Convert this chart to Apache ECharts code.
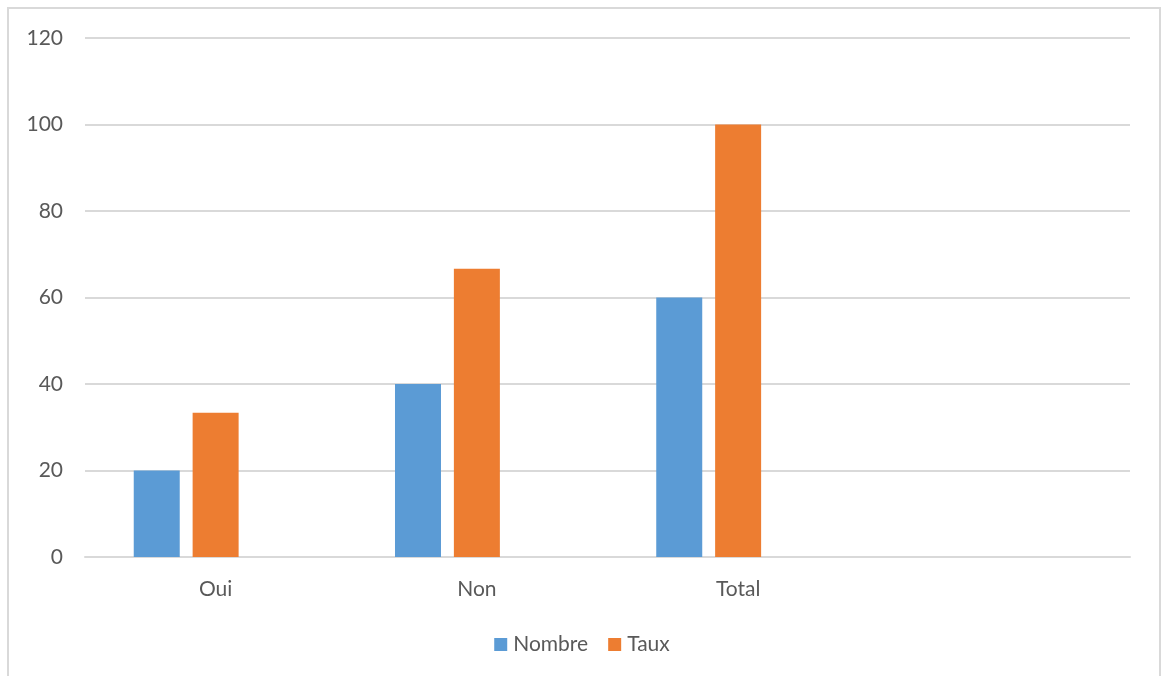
<!DOCTYPE html>
<html>
<head>
<meta charset="utf-8">
<script src="https://cdn.jsdelivr.net/npm/echarts@6/dist/echarts.min.js"></script>
<style>
  html, body { margin: 0; padding: 0; background: #ffffff; }
  #chart { width: 1164px; height: 676px; }
</style>
</head>
<body>
<div id="chart"></div>
<script>
// Categories (the last slot is left empty, as in the workbook)
const categories = ['Oui', 'Non', 'Total', ''];
const nombre = [20, 40, 60, null];
const taux = [33.33, 66.67, 100, null];
const yTicks = { min: 0, max: 120, interval: 20 };

const FONT = 'Lato, "Open Sans", sans-serif';
const TEXT = '#595959';
const GRID = '#d9d9d9';

const chart = echarts.init(document.getElementById('chart'), null, { renderer: 'canvas' });

chart.setOption({
  animation: false,
  backgroundColor: '#ffffff',
  textStyle: { fontFamily: FONT },
  graphic: [{
    type: 'rect',
    shape: { x: 8, y: 8, width: 1152, height: 700 },
    style: { fill: 'none', stroke: GRID, lineWidth: 2 },
    silent: true,
    z: -1
  }],
  grid: { left: 85, right: 34, top: 38, bottom: 119, containLabel: false },
  legend: {
    data: ['Nombre', 'Taux'],
    bottom: 16,
    left: 'center',
    icon: 'rect',
    itemWidth: 13,
    itemHeight: 13,
    itemGap: 20,
    itemStyle: { borderWidth: 0 },
    textStyle: { color: TEXT, fontSize: 21, fontFamily: FONT, padding: [0, 0, 0, 1] }
  },
  xAxis: {
    type: 'category',
    data: categories,
    axisLine: { show: true, lineStyle: { color: GRID, width: 2 } },
    axisTick: { show: false },
    axisLabel: { color: TEXT, fontSize: 21, margin: 22, fontFamily: FONT }
  },
  yAxis: {
    type: 'value',
    min: yTicks.min,
    max: yTicks.max,
    interval: yTicks.interval,
    axisLine: { show: false },
    axisTick: { show: false },
    splitLine: { lineStyle: { color: GRID, width: 2 } },
    axisLabel: { color: TEXT, fontSize: 21, margin: 22, fontFamily: FONT }
  },
  series: [
    {
      name: 'Nombre',
      type: 'bar',
      data: nombre,
      barWidth: 46,
      barGap: '28%',
      itemStyle: { color: '#5b9bd5' }
    },
    {
      name: 'Taux',
      type: 'bar',
      data: taux,
      barWidth: 46,
      barGap: '28%',
      itemStyle: { color: '#ed7d31' }
    },
    {
      // empty third column slot keeps the pair offset inside each category
      name: '',
      type: 'bar',
      data: [null, null, null, null],
      barWidth: 46,
      barGap: '28%',
      itemStyle: { color: 'transparent' }
    }
  ]
});
</script>
</body>
</html>
